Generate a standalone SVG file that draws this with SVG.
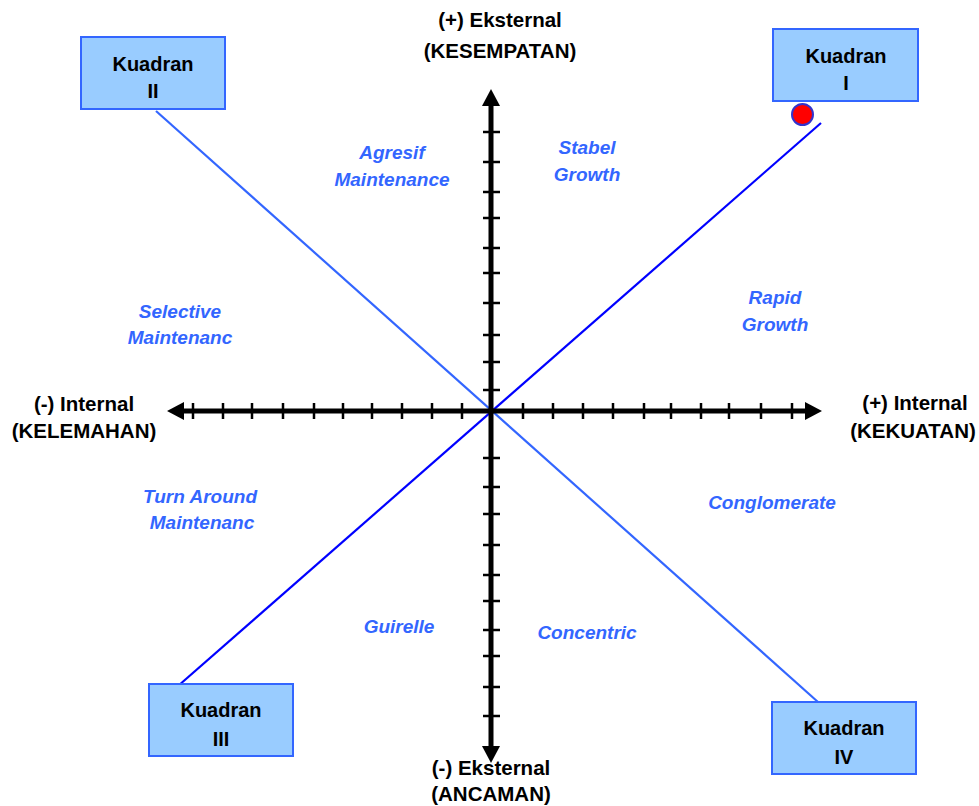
<svg xmlns="http://www.w3.org/2000/svg" width="979" height="806" viewBox="0 0 979 806">
<style>
.box{fill:#99CCFF;stroke:#3366FF;stroke-width:2}
.bt{font-family:"Liberation Sans",Arial,sans-serif;font-weight:bold;font-size:20px;fill:#000;text-anchor:middle}
.ax{font-family:"Liberation Sans",Arial,sans-serif;font-weight:bold;font-size:20.5px;fill:#000;text-anchor:middle}
.lb{font-family:"Liberation Sans",Arial,sans-serif;font-weight:bold;font-style:italic;font-size:19px;fill:#3366FF;text-anchor:middle}
.axis{stroke:#000;stroke-width:5;fill:none}
.tick{stroke:#000;stroke-width:2.5}
</style>
<rect width="979" height="806" fill="#fff"/>
<g id="connectors">
<line x1="156" y1="111" x2="818" y2="702" stroke="#3366FF" stroke-width="2.2"/>
<line x1="178" y1="686" x2="821" y2="123" stroke="#0000FF" stroke-width="2.2"/>
</g>
<g id="axes">
<line class="axis" x1="180" y1="411" x2="810" y2="411"/>
<line class="axis" x1="491" y1="102" x2="491" y2="750"/>
<polygon points="167,411 184,402 184,420" fill="#000"/>
<polygon points="822,411 805,402 805,420" fill="#000"/>
<polygon points="491,89 482,106 500,106" fill="#000"/>
<polygon points="491,763 482,746 500,746" fill="#000"/>
<g class="tick">
<line x1="193" y1="403" x2="193" y2="419"/><line x1="223" y1="403" x2="223" y2="419"/><line x1="252" y1="403" x2="252" y2="419"/><line x1="283" y1="403" x2="283" y2="419"/><line x1="314" y1="403" x2="314" y2="419"/><line x1="343" y1="403" x2="343" y2="419"/><line x1="372" y1="403" x2="372" y2="419"/><line x1="402" y1="403" x2="402" y2="419"/><line x1="432" y1="403" x2="432" y2="419"/><line x1="462" y1="403" x2="462" y2="419"/>
<line x1="523" y1="403" x2="523" y2="419"/><line x1="553" y1="403" x2="553" y2="419"/><line x1="583" y1="403" x2="583" y2="419"/><line x1="613" y1="403" x2="613" y2="419"/><line x1="644" y1="403" x2="644" y2="419"/><line x1="671" y1="403" x2="671" y2="419"/><line x1="701" y1="403" x2="701" y2="419"/><line x1="729" y1="403" x2="729" y2="419"/><line x1="761" y1="403" x2="761" y2="419"/><line x1="792" y1="403" x2="792" y2="419"/>
<line x1="483" y1="132" x2="500" y2="132"/><line x1="483" y1="162" x2="500" y2="162"/><line x1="483" y1="192" x2="500" y2="192"/><line x1="483" y1="218" x2="500" y2="218"/><line x1="483" y1="248" x2="500" y2="248"/><line x1="483" y1="273" x2="500" y2="273"/><line x1="483" y1="303" x2="500" y2="303"/><line x1="483" y1="335" x2="500" y2="335"/><line x1="483" y1="362" x2="500" y2="362"/><line x1="483" y1="390" x2="500" y2="390"/>
<line x1="483" y1="458" x2="500" y2="458"/><line x1="483" y1="487" x2="500" y2="487"/><line x1="483" y1="514" x2="500" y2="514"/><line x1="483" y1="545" x2="500" y2="545"/><line x1="483" y1="575" x2="500" y2="575"/><line x1="483" y1="601" x2="500" y2="601"/><line x1="483" y1="630" x2="500" y2="630"/><line x1="483" y1="656" x2="500" y2="656"/><line x1="483" y1="687" x2="500" y2="687"/><line x1="483" y1="716" x2="500" y2="716"/>
</g>
</g>
<g id="kuadran-1"><rect class="box" x="773" y="29" width="145" height="72"/><text class="bt" x="846" y="63">Kuadran</text><text class="bt" x="846" y="90">I</text></g>
<g id="kuadran-2"><rect class="box" x="81" y="37" width="144" height="72"/><text class="bt" x="153" y="71">Kuadran</text><text class="bt" x="153" y="98">II</text></g>
<g id="kuadran-3"><rect class="box" x="149" y="684" width="144" height="72"/><text class="bt" x="221" y="717">Kuadran</text><text class="bt" x="221" y="746">III</text></g>
<g id="kuadran-4"><rect class="box" x="772" y="702" width="144" height="72"/><text class="bt" x="844" y="735">Kuadran</text><text class="bt" x="844" y="764">IV</text></g>
<g id="position-dot"><circle cx="802.5" cy="114.5" r="10.5" fill="#FF0000" stroke="#3333CC" stroke-width="2"/></g>
<g id="axis-labels">
<text class="ax" x="500" y="27">(+) Eksternal</text><text class="ax" x="500" y="58">(KESEMPATAN)</text>
<text class="ax" x="84" y="411">(-) Internal</text><text class="ax" x="84" y="438">(KELEMAHAN)</text>
<text class="ax" x="915" y="410">(+) Internal</text><text class="ax" x="913" y="438">(KEKUATAN)</text>
<text class="ax" x="491" y="775">(-) Eksternal</text><text class="ax" x="491" y="801">(ANCAMAN)</text>
</g>
<g id="strategy-labels">
<text class="lb" x="392" y="159">Agresif</text><text class="lb" x="392" y="186">Maintenance</text>
<text class="lb" x="587" y="154">Stabel</text><text class="lb" x="587" y="181">Growth</text>
<text class="lb" x="180" y="318">Selective</text><text class="lb" x="180" y="344">Maintenanc</text>
<text class="lb" x="775" y="304">Rapid</text><text class="lb" x="775" y="331">Growth</text>
<text class="lb" x="200" y="503">Turn Around</text><text class="lb" x="202" y="529">Maintenanc</text>
<text class="lb" x="772" y="509">Conglomerate</text>
<text class="lb" x="399" y="633">Guirelle</text>
<text class="lb" x="587" y="639">Concentric</text>
</g>
</svg>
